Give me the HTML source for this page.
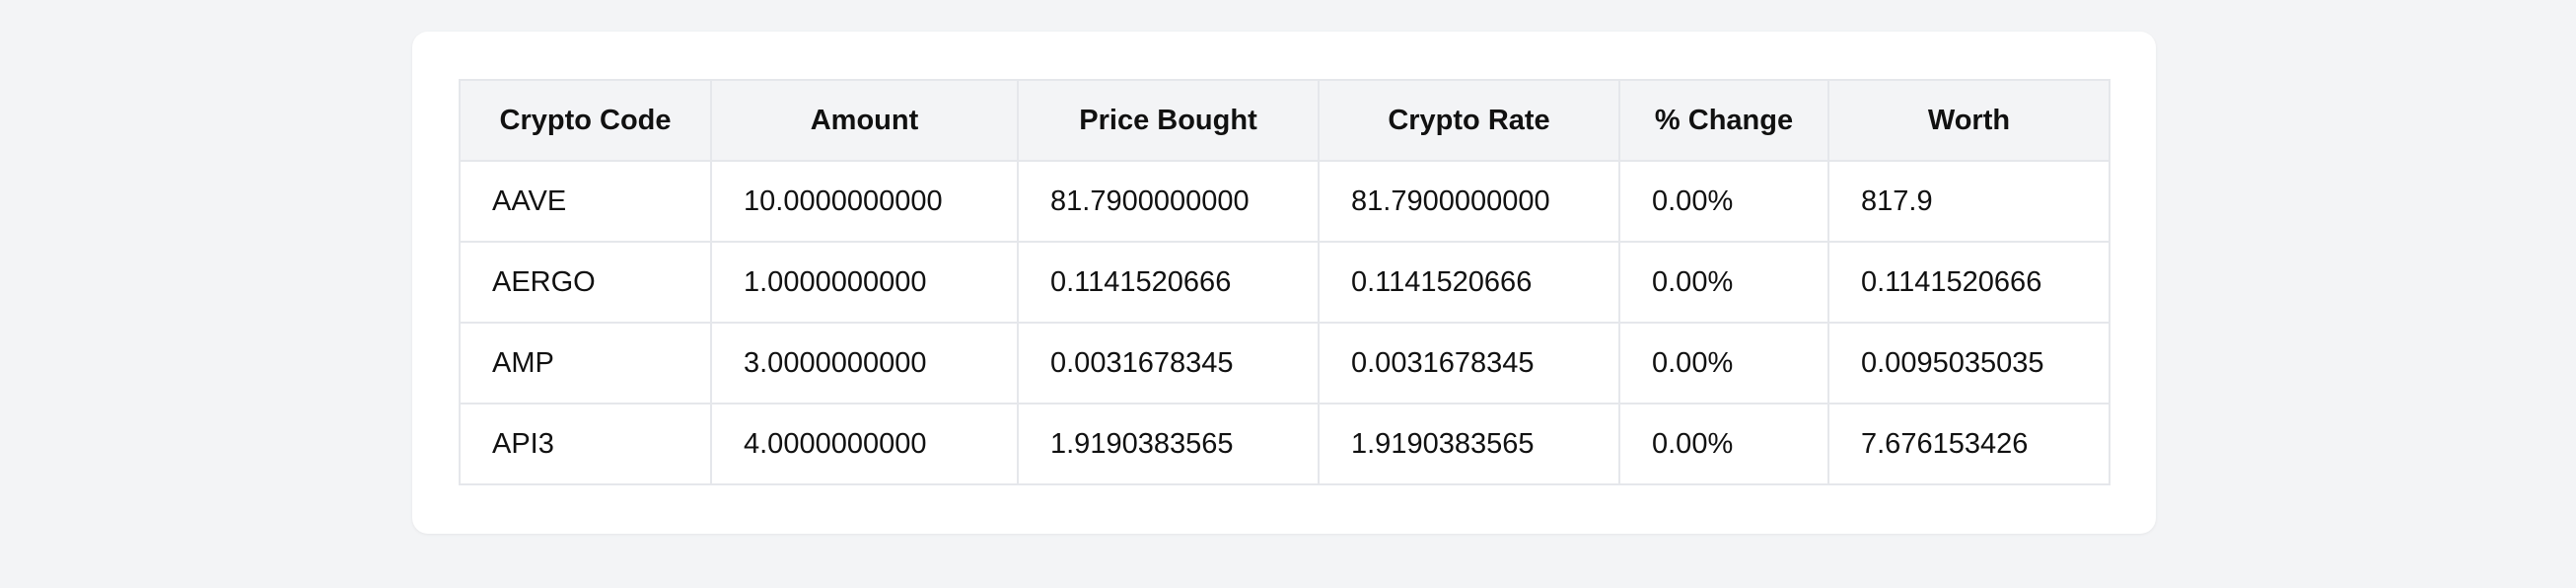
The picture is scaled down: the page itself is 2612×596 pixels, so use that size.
<!DOCTYPE html>
<html><head><meta charset="utf-8"><style>
html,body{margin:0;padding:0;background:#f3f4f6;width:2612px;height:596px;overflow:hidden;font-family:"Liberation Sans",sans-serif;}
.card{position:absolute;left:418px;top:32px;width:1768px;height:509px;background:#fff;border-radius:16px;box-shadow:0 1px 3px rgba(0,0,0,0.06);}
table{position:absolute;left:47px;top:48px;border-collapse:collapse;table-layout:fixed;}
th,td{border:2px solid #e5e7eb;height:80px;padding:0 0 0 32px;font-size:29px;color:#111;text-align:left;white-space:nowrap;}
th{background:#f3f4f6;font-weight:600;text-align:center;padding:0;}
</style></head><body>
<div class="card">
<table>
<colgroup><col style="width:255px"><col style="width:311px"><col style="width:305px"><col style="width:305px"><col style="width:212px"><col style="width:285px"></colgroup>
<tr><th>Crypto Code</th><th>Amount</th><th>Price Bought</th><th>Crypto Rate</th><th>% Change</th><th>Worth</th></tr>
<tr><td>AAVE</td><td>10.0000000000</td><td>81.7900000000</td><td>81.7900000000</td><td>0.00%</td><td>817.9</td></tr>
<tr><td>AERGO</td><td>1.0000000000</td><td>0.1141520666</td><td>0.1141520666</td><td>0.00%</td><td>0.1141520666</td></tr>
<tr><td>AMP</td><td>3.0000000000</td><td>0.0031678345</td><td>0.0031678345</td><td>0.00%</td><td>0.0095035035</td></tr>
<tr><td>API3</td><td>4.0000000000</td><td>1.9190383565</td><td>1.9190383565</td><td>0.00%</td><td>7.676153426</td></tr>
</table>
</div>
</body></html>
